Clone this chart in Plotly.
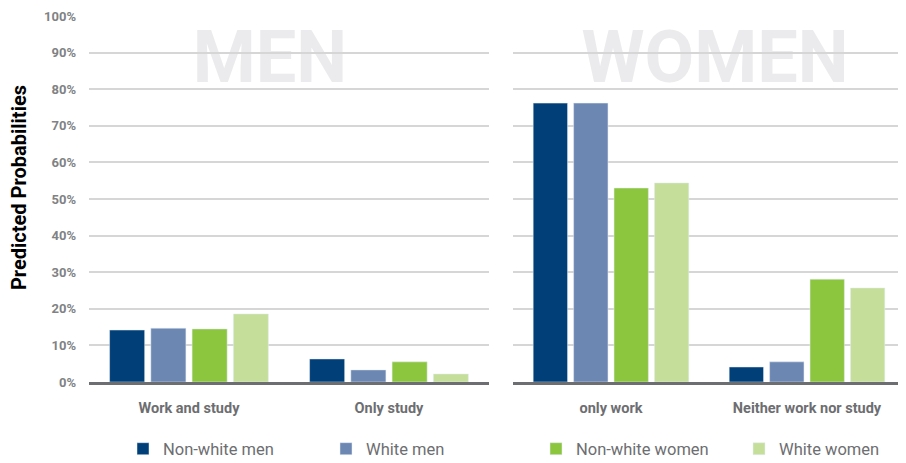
import plotly.graph_objects as go

# ---- data ----
men_categories = ["Work and study", "Only study"]
women_categories = ["only work", "Neither work nor study"]
series_names = ["Non-white men", "White men", "Non-white women", "White women"]
series_colors = ["#003f78", "#6b87b2", "#8cc63f", "#c5df9b"]

# values in percent, one list per series: [left cat 1, left cat 2]
men_panel_values = [
    [14.2, 6.3],
    [14.7, 3.3],
    [14.5, 5.5],
    [18.6, 2.2],
]
# [right cat 1, right cat 2]
women_panel_values = [
    [76.2, 4.1],
    [76.2, 5.5],
    [53.0, 28.1],
    [54.4, 25.7],
]
y_ticks = list(range(0, 101, 10))
y_tick_labels = [f"{v}%" for v in y_ticks]

COND = "Roboto, Liberation Sans Narrow, sans-serif"
GRAY = "#6d6e71"

fig = go.Figure()

for i, name in enumerate(series_names):
    # first two series go in the left legend, last two in the right one
    leg = "legend" if i < 2 else "legend2"
    fig.add_trace(go.Bar(
        x=men_categories, y=men_panel_values[i], name=name,
        marker_color=series_colors[i], xaxis="x", yaxis="y",
        legendgroup=name, showlegend=True, legend=leg, hoverinfo="skip",
    ))
    fig.add_trace(go.Bar(
        x=women_categories, y=women_panel_values[i], name=name,
        marker_color=series_colors[i], xaxis="x2", yaxis="y2",
        legendgroup=name, showlegend=False, legend=leg, hoverinfo="skip",
    ))

axis_common = dict(
    showgrid=False, showline=True, linecolor=GRAY, linewidth=3,
    ticks="", tickfont=dict(family=COND, size=14.5, color=GRAY, weight="bold"),
    ticklabelstandoff=11, fixedrange=True,
)
yaxis_common = dict(
    range=[0, 100], tickvals=y_ticks, showgrid=True,
    gridcolor="#d6d6d6", gridwidth=2, zeroline=False, fixedrange=True,
)

# the page body adds an 8px offset, so the figure is 8px smaller and margins shifted
PLOT_W = 816
left_end = 400 / PLOT_W
right_start = 424 / PLOT_W

legend_common = dict(
    orientation="h", xanchor="left", y=-0.183, yanchor="middle",
    entrywidth=158, entrywidthmode="pixels",
    font=dict(family=COND, size=16.5, color=GRAY),
    itemclick=False, itemdoubleclick=False, bgcolor="rgba(0,0,0,0)",
)

fig.update_layout(
    width=898, height=455,
    margin=dict(l=81, r=1, t=8, b=81, autoexpand=False),
    paper_bgcolor="white", plot_bgcolor="rgba(0,0,0,0)",
    barmode="group", bargap=0.175, bargroupgap=0.15,
    xaxis=dict(domain=[0, left_end], anchor="y", **axis_common),
    xaxis2=dict(domain=[right_start, 1], anchor="y2", **axis_common),
    yaxis=dict(
        ticktext=y_tick_labels, showticklabels=True,
        tickfont=dict(family=COND, size=13, color="#808285", weight="bold"),
        ticklabelstandoff=12, **yaxis_common,
    ),
    yaxis2=dict(anchor="x2", showticklabels=False, matches="y", **yaxis_common),
    legend=dict(x=34 / PLOT_W, **legend_common),
    legend2=dict(x=447 / PLOT_W, **legend_common),
    showlegend=True,
)

# big pale panel labels drawn underneath the gridlines
for label, x0, x1 in [("MEN", (180 - 89) / PLOT_W, (360 - 89) / PLOT_W),
                      ("WOMEN", (570 - 89) / PLOT_W, (860 - 89) / PLOT_W)]:
    fig.add_shape(
        type="rect", xref="paper", yref="paper",
        x0=x0, x1=x1, y0=0.8, y1=1.0, layer="below",
        line=dict(width=0), fillcolor="rgba(0,0,0,0)",
        label=dict(text=label, textposition="middle center",
                   font=dict(family=COND, size=72, color="#ebebed", weight="bold")),
    )

fig.add_annotation(
    text="Predicted Probabilities", xref="paper", yref="paper",
    x=(19 - 89) / PLOT_W, y=0.53, textangle=-90, showarrow=False,
    xanchor="center", yanchor="middle",
    font=dict(family=COND, size=20, color="black", weight="bold"),
)

fig.write_html("out.html", config={"displayModeBar": False})
